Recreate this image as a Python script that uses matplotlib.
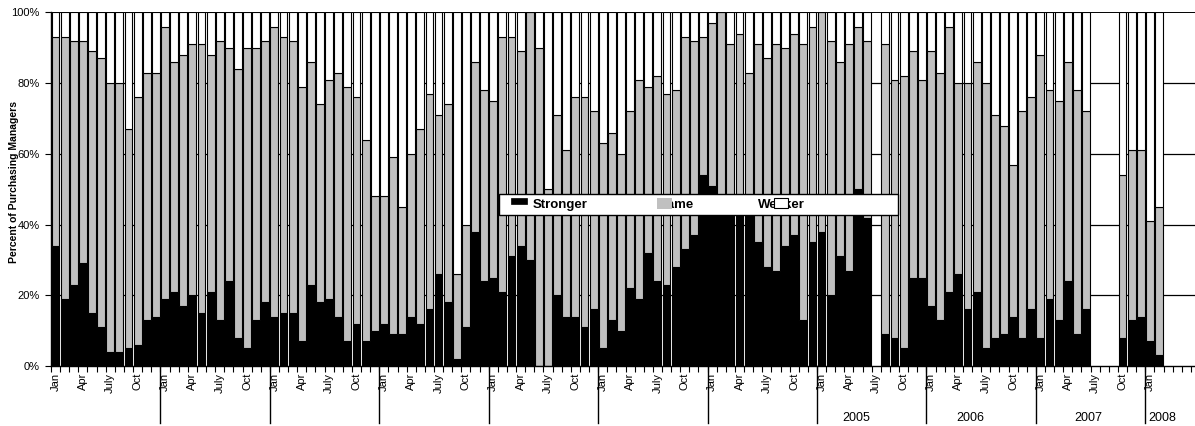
import numpy as np
import matplotlib
matplotlib.use("Agg")
import matplotlib.pyplot as plt
from matplotlib.patches import Rectangle

plt.rcParams['font.family'] = ['Liberation Sans', 'DejaVu Sans']

nan = np.nan

# monthly survey, Jan 1998 .. Jun 2008 (percent of purchasing managers)
years = [1998, 1999, 2000, 2001, 2002, 2003, 2004, 2005, 2006, 2007, 2008]
year_labels = ['', '', '', '', '', '', '', '2005', '2006', '2007', '2008']
month_labels = {0: 'Jan', 3: 'Apr', 6: 'July', 9: 'Oct'}

stronger = [
    34, 19, 23, 29, 15, 11, 4, 4, 5, 6, 13, 14,
    19, 21, 17, 20, 15, 21, 13, 24, 8, 5, 13, 18,
    14, 15, 15, 7, 23, 18, 19, 14, 7, 12, 7, 10,
    12, 9, 9, 14, 12, 16, 26, 18, 2, 11, 38, 24,
    25, 21, 31, 34, 30, 0, 0, 20, 14, 14, 11, 16,
    5, 13, 10, 22, 19, 32, 24, 23, 28, 33, 37, 54,
    51, 46, 45, 47, 44, 35, 28, 27, 34, 37, 13, 35,
    38, 20, 31, 27, 50, 42, nan, 9, 8, 5, 25, 25,
    17, 13, 21, 26, 16, 21, 5, 8, 9, 14, 8, 16,
    8, 19, 13, 24, 9, 16, nan, nan, nan, 8, 13, 14,
    7, 3, nan, nan, nan, nan,
]
weaker = [
    7, 7, 8, 8, 11, 13, 20, 20, 33, 24, 17, 17,
    4, 14, 12, 9, 9, 12, 8, 10, 16, 10, 10, 8,
    4, 7, 8, 21, 14, 26, 19, 17, 21, 24, 36, 52,
    52, 41, 55, 40, 33, 23, 29, 26, 74, 60, 14, 22,
    25, 7, 7, 11, 0, 10, 50, 29, 39, 24, 24, 28,
    37, 34, 40, 28, 19, 21, 18, 23, 22, 7, 8, 7,
    3, 0, 9, 6, 17, 9, 13, 9, 10, 6, 9, 4,
    0, 8, 14, 9, 4, 8, nan, 9, 19, 18, 11, 19,
    11, 17, 4, 20, 20, 14, 20, 29, 32, 43, 28, 24,
    12, 22, 25, 14, 22, 28, nan, nan, nan, 46, 39, 39,
    59, 55, nan, nan, nan, nan,
]

S = np.array(stronger, dtype=float)
W = np.array(weaker, dtype=float)
M = 100 - S - W
n = len(S)
x = np.arange(n)
ok = ~np.isnan(S)
last = x[ok].max()

fig = plt.figure(figsize=(11.95, 4.26), dpi=100)
ax = fig.add_axes([51/1195, 60/426, 1149/1195, 353.5/426])

# gridlines behind the bars
for g in [20, 40, 60, 80, 100]:
    ax.axhline(g, color='black', lw=0.9 if g < 100 else 1.4, zorder=0)

bw = 0.86
ax.bar(x[ok], S[ok], bw, color='black', edgecolor='black', lw=0.8, zorder=2)
ax.bar(x[ok], M[ok], bw, bottom=S[ok], color='#c0c0c0', edgecolor='black', lw=0.8, zorder=2)
ax.bar(x[ok], W[ok], bw, bottom=S[ok] + M[ok], color='white', edgecolor='black', lw=0.8, zorder=2)

ax.set_xlim(-0.5, n - 0.5)
ax.set_ylim(0, 100)

ax.set_yticks([0, 20, 40, 60, 80, 100])
ax.set_yticklabels(['0%', '20%', '40%', '60%', '80%', '100%'], fontsize=8)
ax.tick_params(axis='y', length=4, width=0.8, pad=4)
ax.set_ylabel('Percent of Purchasing Managers', fontsize=7.5, fontweight='bold')
ax.yaxis.set_label_coords(-0.028, 0.52)

# month labels (Jan/Apr/July/Oct) and boundary tick marks
pos = [i for i in range(n) if i % 12 in month_labels and i <= last]
ax.set_xticks(pos)
ax.set_xticklabels([month_labels[i % 12] for i in pos], rotation=90, fontsize=8)
ax.tick_params(axis='x', length=0, pad=5)
ax.set_xticks(np.arange(n + 1) - 0.5, minor=True)
ax.tick_params(axis='x', which='minor', length=4, width=0.8, direction='out')

# year separators and year labels
tr = ax.get_xaxis_transform()
for k in range(1, len(years)):
    xb = 12 * k - 0.5
    ax.plot([xb, xb], [0, -0.161], transform=tr, color='black', lw=1.0, clip_on=False)
year_x = {2005: 87.8, 2006: 100.3, 2007: 113.3, 2008: 121.4}
for yr, lab in zip(years, year_labels):
    if lab:
        ax.text(year_x[yr], -0.147, lab, transform=tr, ha='center', va='center', fontsize=9)

for sp in ['top', 'right']:
    ax.spines[sp].set_visible(False)
ax.spines['left'].set_linewidth(1.0)
ax.spines['bottom'].set_linewidth(1.0)

# legend drawn as in the original (patches overlapping the labels)
ta = ax.transAxes
ax.add_patch(Rectangle((0.390, 0.427), 0.347, 0.0596, transform=ta, facecolor='white',
                       edgecolor='black', lw=1.0, zorder=5))
ty = 0.4461
ax.text(0.4189, ty, 'Stronger', transform=ta, fontsize=9.5, fontweight='bold', va='baseline', zorder=6)
ax.text(0.5288, ty, 'Same', transform=ta, fontsize=9.5, fontweight='bold', va='baseline', zorder=6)
ax.text(0.6156, ty, 'Weaker', transform=ta, fontsize=9.5, fontweight='bold', va='baseline', zorder=6)
ax.add_patch(Rectangle((0.4003, 0.4583), 0.0139, 0.0170, transform=ta, facecolor='black',
                       edgecolor='black', lw=0.5, zorder=7))
ax.add_patch(Rectangle((0.5277, 0.4441), 0.0125, 0.0311, transform=ta, facecolor='#c0c0c0',
                       edgecolor='none', zorder=7))
ax.add_patch(Rectangle((0.6292, 0.4470), 0.0122, 0.0282, transform=ta, facecolor='white',
                       edgecolor='black', lw=0.8, zorder=7))

fig.savefig('out.png', dpi=100)
